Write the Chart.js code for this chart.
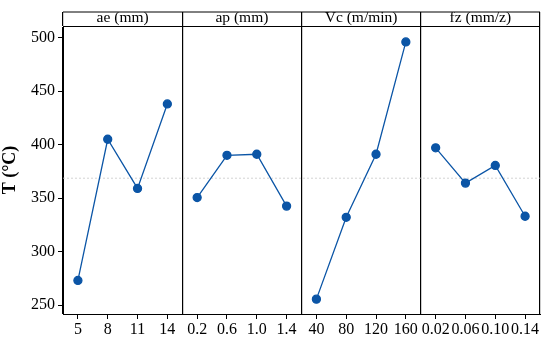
<!DOCTYPE html>
<html>
<head>
<meta charset="utf-8">
<script src="https://cdn.jsdelivr.net/npm/chart.js@4/dist/chart.umd.min.js"></script>
<style>
  body { margin: 0; background: #fff; }
  #wrap { width: 550px; height: 341px; }
</style>
</head>
<body>
<div id="wrap"><canvas id="grafico"></canvas></div>
<script>
// panel names and levels
const panels = ['ae (mm)', 'ap (mm)', 'Vc (m/min)', 'fz (mm/z)'];
const aeLevels = ['5', '8', '11', '14'];
const apLevels = ['0.2', '0.6', '1.0', '1.4'];
const vcLevels = ['40', '80', '120', '160'];
const fzLevels = ['0.02', '0.06', '0.10', '0.14'];

// mean temperature T (°C) per level
const aeT = [273, 405, 359, 438];
const apT = [350.5, 390, 391, 342.5];
const vcT = [255.5, 332, 391, 496];
const fzT = [397, 364, 380.5, 333];

const yTicks = [250, 300, 350, 400, 450, 500];

const labels = [...aeLevels, ...apLevels, ...vcLevels, ...fzLevels];
const groups = [aeT, apT, vcT, fzT];
const allT = groups.flat();
const grandMean = allT.reduce((a, b) => a + b, 0) / allT.length;

const blue = '#0b55a6';

const datasets = groups.map(function(vals, g) {
    const data = new Array(labels.length).fill(null);
    vals.forEach(function(v, i) { data[g * 4 + i] = v; });
    return {
        data: data,
        borderColor: blue,
        backgroundColor: blue,
        borderWidth: 1.3,
        pointRadius: 4,
        pointHoverRadius: 4,
        spanGaps: false,
        xAxisID: 'x'
    };
});

const framePlugin = {
    id: 'frame',
    beforeDatasetsDraw(chart) {
        const c = chart.ctx, a = chart.chartArea;
        const y = chart.scales.y.getPixelForValue(grandMean);
        c.save();
        c.strokeStyle = '#c8c8c8';
        c.lineWidth = 0.8;
        c.setLineDash([2, 2]);
        c.beginPath();
        c.moveTo(a.left, y);
        c.lineTo(a.right, y);
        c.stroke();
        c.restore();
    },
    afterDraw(chart) {
        const c = chart.ctx, a = chart.chartArea;
        c.save();
        c.strokeStyle = '#000';
        c.lineWidth = 1;
        c.beginPath();
        c.moveTo(a.left, a.top - 14);
        c.lineTo(a.right, a.top - 14);
        c.stroke();
        c.restore();
    }
};

const family = '"Liberation Serif", "Times New Roman", serif';
const font = { family: family, size: 16 };

new Chart(document.getElementById('grafico').getContext('2d'), {
    type: 'line',
    data: { labels: labels, datasets: datasets },
    options: {
        responsive: true,
        maintainAspectRatio: false,
        animation: false,
        layout: { padding: { top: 12, right: 10, left: 0, bottom: 0 } },
        plugins: { legend: { display: false }, tooltip: { enabled: false } },
        scales: {
            x: {
                type: 'category',
                position: 'bottom',
                offset: true,
                border: { color: '#000', width: 1 },
                grid: { offset: false, drawOnChartArea: false, tickLength: 5, color: '#000' },
                ticks: { font: font, color: '#000', padding: 1, autoSkip: false, maxRotation: 0 },
                afterFit(s) { s.height = 27; }
            },
            x2: {
                type: 'category',
                position: 'top',
                labels: panels,
                offset: true,
                border: { color: '#000', width: 1 },
                grid: { offset: true, drawOnChartArea: true, tickLength: 14, color: '#000', lineWidth: 1.2 },
                ticks: { font: { family: family, size: 15.5 }, color: '#000', padding: -15, autoSkip: false, maxRotation: 0 },
                afterFit(s) { s.height = 14; }
            },
            y: {
                min: 241.6,
                max: 510.9,
                border: { color: '#000', width: 1 },
                grid: { drawOnChartArea: false, tickLength: 5, color: '#000' },
                afterBuildTicks(s) { s.ticks = yTicks.map(v => ({ value: v })); },
                ticks: { font: font, color: '#000', padding: 3 },
                title: {
                    display: true,
                    text: 'T (°C)',
                    color: '#000',
                    font: { family: family, size: 18, weight: 'bold' },
                    padding: { top: 0, bottom: 6 }
                },
                afterFit(s) { s.width = 63; }
            }
        }
    },
    plugins: [framePlugin]
});
</script>
</body>
</html>
